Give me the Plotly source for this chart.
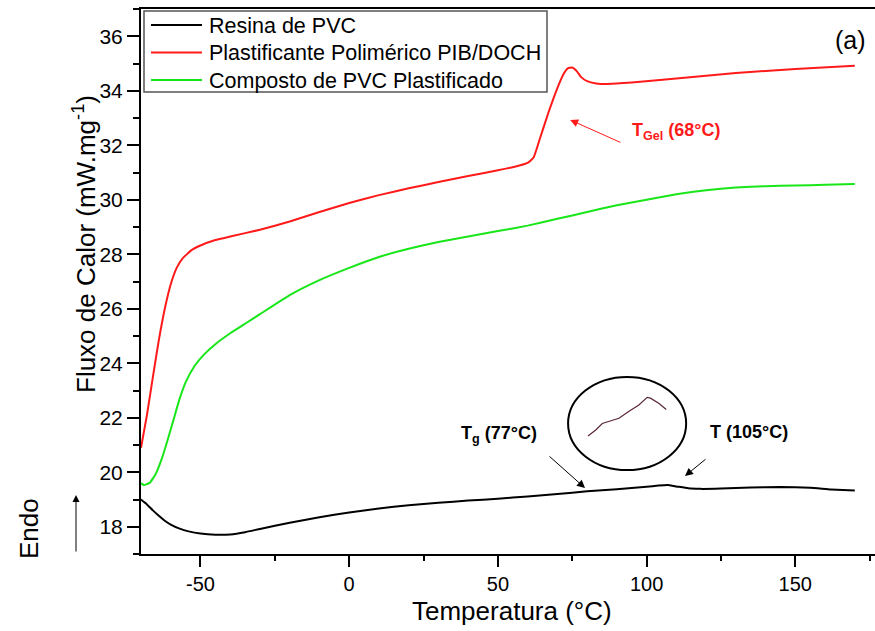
import plotly.graph_objects as go

# ---------------- data ----------------
pvc_T = [-70, -68, -66, -64, -62, -60, -57, -54, -50, -45, -40, -35, -30, -20, -10, 0, 10, 20, 30,
         40, 50, 60, 70, 80, 90, 100, 104, 107, 110, 114, 118, 125, 135, 145, 155, 162, 170]
pvc_Y = [19.0, 18.82, 18.6, 18.4, 18.22, 18.08, 17.93, 17.83, 17.75, 17.71, 17.72, 17.8, 17.92,
         18.15, 18.35, 18.52, 18.67, 18.79, 18.88, 18.96, 19.03, 19.11, 19.2, 19.3, 19.38, 19.47,
         19.51, 19.53, 19.48, 19.41, 19.39, 19.4, 19.44, 19.46, 19.43, 19.37, 19.33]

pib_T = [-70, -68, -66, -64, -62, -60, -58, -56, -53, -50, -45, -40, -30, -20, -10, 0, 10, 20, 30,
         40, 50, 56, 60, 62, 64, 67, 70, 72, 73.5, 75, 76.5, 78, 80, 83, 87, 95, 110, 130, 150, 170]
pib_Y = [20.9, 22.1, 23.5, 24.85, 26.0, 26.9, 27.5, 27.85, 28.15, 28.32, 28.52, 28.65, 28.9, 29.2,
         29.55, 29.88, 30.17, 30.42, 30.65, 30.87, 31.08, 31.22, 31.35, 31.55, 32.2, 33.2, 34.1,
         34.6, 34.82, 34.85, 34.72, 34.5, 34.35, 34.27, 34.25, 34.3, 34.45, 34.65, 34.8, 34.92]

comp_T = [-70, -69, -67, -65, -63, -61, -59, -57, -55, -52, -49, -45, -40, -35, -30, -20, -10, 0,
          10, 20, 30, 40, 50, 60, 70, 80, 90, 100, 110, 120, 130, 140, 150, 160, 170]
comp_Y = [19.6, 19.53, 19.62, 19.95, 20.5, 21.2, 21.95, 22.7, 23.3, 23.9, 24.3, 24.7, 25.1, 25.45,
          25.8, 26.5, 27.05, 27.5, 27.9, 28.2, 28.45, 28.65, 28.85, 29.05, 29.3, 29.55, 29.8, 30.0,
          30.2, 30.35, 30.45, 30.5, 30.52, 30.55, 30.58]

# magnified sketch drawn inside the circle
inset_T = [80.3, 82.9, 85.1, 87.9, 90.7, 94.1, 97.4, 100.2, 101.3, 104.2, 106.6]
inset_Y = [21.33, 21.55, 21.79, 21.9, 21.98, 22.24, 22.47, 22.75, 22.72, 22.52, 22.3]

series_names = ["Resina de PVC", "Plastificante Polimérico PIB/DOCH", "Composto de PVC Plastificado"]
series_colors = ["#000000", "#ff1a1a", "#19e619"]

x_ticks = [-50, 0, 50, 100, 150]
x_ticktext = ["-50", "0", "50", "100", "150"]
y_ticks = [18, 20, 22, 24, 26, 28, 30, 32, 34, 36]

FONT = "Liberation Sans, Arial, sans-serif"

# pixel -> paper helpers for the plot area
W, H, L, T0 = 734, 545, 141, 9
def px(xp): return (xp - L) / W
def py(yp): return (T0 + H - yp) / H

fig = go.Figure()
for T, Y, name, col in zip([pvc_T, pib_T, comp_T], [pvc_Y, pib_Y, comp_Y], series_names, series_colors):
    fig.add_trace(go.Scatter(x=T, y=Y, mode="lines", name=name, showlegend=False,
                             line=dict(color=col, width=2, shape="spline", smoothing=0.4)))

fig.add_trace(go.Scatter(x=inset_T, y=inset_Y, mode="lines", showlegend=False,
                         line=dict(color="#5a2838", width=1.2)))

# circle around the magnified sketch
fig.add_shape(type="circle", xref="x", yref="y", x0=73.6, x1=113.3, y0=20.08, y1=23.5,
              line=dict(color="black", width=2))

ann = []
# legend box drawn by hand (to match spacing)
fig.add_shape(type="rect", xref="paper", yref="paper", x0=px(144), x1=px(547), y0=py(92), y1=py(11),
              line=dict(color="#555555", width=1.5), fillcolor="white", layer="above")
for i, (name, col) in enumerate(zip(series_names, series_colors)):
    yrow = 25 + i * 27.5
    fig.add_shape(type="line", xref="paper", yref="paper", x0=px(151), x1=px(202),
                  y0=py(yrow), y1=py(yrow), line=dict(color=col, width=2), layer="above")
    ann.append(dict(x=px(207), y=py(yrow + 1), xref="paper", yref="paper", showarrow=False,
                    xanchor="left", yanchor="middle", text=name,
                    font=dict(family=FONT, size=21.5, color="black")))

# arrows
ann.append(dict(x=74.3, y=32.93, ax=91.7, ay=32.08, xref="x", yref="y", axref="x", ayref="y",
                text="", showarrow=True, arrowhead=2, arrowsize=1.6, arrowwidth=1, arrowcolor="#ff1a1a"))
ann.append(dict(x=79.3, y=19.42, ax=66.85, ay=20.63, xref="x", yref="y", axref="x", ayref="y",
                text="", showarrow=True, arrowhead=2, arrowsize=1.6, arrowwidth=1, arrowcolor="black"))
ann.append(dict(x=112.9, y=19.86, ax=120.3, ay=20.52, xref="x", yref="y", axref="x", ayref="y",
                text="", showarrow=True, arrowhead=2, arrowsize=1.6, arrowwidth=1, arrowcolor="black"))

def label(x, y, text, size, color="black", angle=0):
    ann.append(dict(x=px(x), y=py(y), xref="paper", yref="paper", showarrow=False,
                    xanchor="center", yanchor="middle", textangle=angle, text=text,
                    font=dict(family=FONT, size=size, color=color)))

label(676, 132, "<b>T<sub>Gel</sub> (68°C)</b>", 18, "#ff1a1a")
label(499, 434, "<b>T<sub>g</sub> (77°C)</b>", 18)
label(749, 432, "<b>T (105°C)</b>", 18)
label(850, 40, "(a)", 25)
label(512, 611, "Temperatura (°C)", 26)
label(85, 244, "Fluxo de Calor (mW.mg<sup>-1</sup>)", 26, angle=-90)
label(29, 529, "Endo", 26, angle=-90)

# Endo arrow
ann.append(dict(x=px(76), y=py(495), ax=0, ay=58, xref="paper", yref="paper",
                axref="pixel", ayref="pixel", text="", showarrow=True, arrowhead=2,
                arrowsize=1.4, arrowwidth=1, arrowcolor="black"))

fig.update_layout(
    width=875, height=631, autosize=False,
    margin=dict(l=L, r=875 - L - W, t=T0, b=631 - T0 - H),
    paper_bgcolor="white", plot_bgcolor="white",
    font=dict(family=FONT, color="black"),
    annotations=ann, showlegend=False,
    xaxis=dict(range=[-70, 176.8], tickvals=x_ticks, ticktext=x_ticktext, ticks="outside",
               ticklen=11, tickwidth=2,
               tickcolor="black", showline=True, linecolor="black", linewidth=2, mirror=True,
               showgrid=False, zeroline=False, tickfont=dict(family=FONT, size=20, color="black"),
               minor=dict(tickvals=[-25, 25, 75, 125, 175], ticks="outside", ticklen=5,
                          tickwidth=1.5, tickcolor="black", showgrid=False)),
    yaxis=dict(range=[17, 37], tickvals=y_ticks, ticks="outside", ticklen=12, tickwidth=2,
               tickcolor="black", showline=True, linecolor="black", linewidth=2,
               showgrid=False, zeroline=False, tickfont=dict(family=FONT, size=21, color="black"),
               minor=dict(tickvals=[17, 19, 21, 23, 25, 27, 29, 31, 33, 35, 37], ticks="outside",
                          ticklen=6, tickwidth=1.5, tickcolor="black", showgrid=False)),
)

fig.write_html("out.html")
